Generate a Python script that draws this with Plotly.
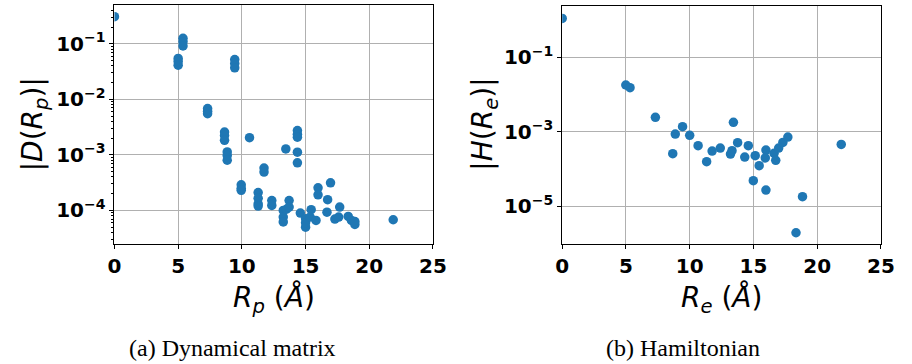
import plotly.graph_objects as go

# ---- data: (a) Dynamical matrix ----
D_R = [0, 5.0, 5.0, 5.0, 5.38, 5.38, 5.38, 7.31, 7.31, 7.31,
       8.64, 8.64, 8.64, 8.85, 8.85, 8.85, 9.44, 9.44, 9.44,
       9.95, 9.95, 9.95, 10.6, 11.28, 11.28, 11.28, 11.28,
       11.74, 11.74, 12.35, 12.35, 13.25, 13.25, 13.25, 13.45,
       13.5, 13.71, 13.71, 14.36, 14.36, 14.36, 14.36, 14.36,
       14.59, 15.0, 15.0, 15.0, 15.44, 15.36, 15.82, 15.98, 15.98,
       16.96, 16.73, 16.68, 17.68, 17.3, 17.6, 18.35, 18.6, 18.87, 18.87,
       21.88]
D_val = [0.307, 0.0543, 0.0412, 0.048, 0.125, 0.108, 0.091, 0.0068, 0.0061, 0.0055,
         0.00258, 0.00222, 0.00183, 0.00113, 0.00097, 0.0008, 0.052, 0.044, 0.0369,
         0.00029, 0.00025, 0.00023, 0.00204, 0.00021, 0.000165, 0.000132, 0.00012,
         0.00058, 0.00049, 0.000151, 0.000123, 0.0001, 7.6e-5, 6.2e-5, 0.00128,
         0.000105, 0.000151, 0.000115, 0.00274, 0.00235, 0.00208, 0.00112, 0.00072,
         8.95e-5, 7.1e-5, 5.0e-5, 6.0e-5, 0.000103, 7.6e-5, 6.6e-5, 0.000255, 0.000191,
         0.000314, 0.000156, 9.3e-5, 0.000115, 7.0e-5, 7.6e-5, 7.8e-5, 6.6e-5, 5.6e-5, 6.3e-5,
         6.8e-5]

# ---- data: (b) Hamiltonian ----
H_R = [0, 4.99, 5.32, 7.31, 8.87, 8.67, 9.44, 10.0, 10.66, 11.33, 11.76, 12.40,
       13.2, 13.32, 13.43, 13.76, 14.32, 14.6, 15.14, 14.99, 15.45, 15.98, 15.93,
       15.98, 16.62, 16.75, 16.98, 17.31, 17.70, 18.34, 18.85, 21.89]
H_val = [1.11, 0.0181, 0.0153, 0.00245, 0.000875, 0.00026, 0.00138, 0.00081, 0.000425,
         0.000158, 0.000305, 0.000368, 0.000254, 0.000312, 0.0018, 0.000512, 0.000211,
         0.000425, 0.000229, 4.9e-5, 0.000124, 0.000325, 0.000199, 2.74e-5, 0.000265,
         0.000172, 0.000368, 0.000522, 0.000727, 1.96e-6, 1.82e-5, 0.000461]

x_ticks = [0, 5, 10, 15, 20, 25]
D_ticks = [1e-1, 1e-2, 1e-3, 1e-4]
D_ticktext = ["10<sup>\u22121</sup>", "10<sup>\u22122</sup>", "10<sup>\u22123</sup>", "10<sup>\u22124</sup>"]
D_minor = [m * 10.0 ** e for e in range(-5, 0) for m in range(2, 10)]
H_ticks = [1e-1, 1e-3, 1e-5]
H_ticktext = ["10<sup>\u22121</sup>", "10<sup>\u22123</sup>", "10<sup>\u22125</sup>"]

BLUE = "#1f77b4"
W, H = 912, 364

fig = go.Figure()
fig.add_trace(go.Scatter(x=D_R, y=D_val, mode="markers", xaxis="x", yaxis="y",
                         marker=dict(color=BLUE, size=9.5, line=dict(width=0)), showlegend=False))
fig.add_trace(go.Scatter(x=H_R, y=H_val, mode="markers", xaxis="x2", yaxis="y2",
                         marker=dict(color=BLUE, size=9.5, line=dict(width=0)), showlegend=False))
# empty trace to carry the minor-tick overlay axis
fig.add_trace(go.Scatter(x=[], y=[], xaxis="x", yaxis="y3", showlegend=False, hoverinfo="skip"))

tickfont = dict(family="DejaVu Sans", size=20, color="black", weight="bold")
common_x = dict(range=[0, 25], tickvals=x_ticks, ticktext=[str(v) for v in x_ticks],
                showgrid=True, gridcolor="#b0b0b0", gridwidth=1,
                showline=True, linecolor="black", linewidth=1, mirror=True,
                ticks="outside", ticklen=4, tickcolor="black", tickwidth=1,
                tickfont=tickfont, zeroline=False)
common_y = dict(type="log", showgrid=True, gridcolor="#b0b0b0", gridwidth=1,
                showline=True, linecolor="black", linewidth=1, mirror=True,
                ticks="outside", ticklen=4, tickcolor="black", tickwidth=1,
                tickfont=tickfont, zeroline=False)

yd1 = [1 - 243.5 / H, 1 - 5 / H]
yr1 = [-4.595, -0.303]

fig.update_layout(
    width=W, height=H, margin=dict(l=0, r=0, t=0, b=0),
    paper_bgcolor="white", plot_bgcolor="white",
    xaxis=dict(domain=[110 / W, 436 / W], anchor="y", **common_x),
    yaxis=dict(domain=yd1, anchor="x", range=yr1, tickvals=D_ticks, ticktext=D_ticktext,
               **common_y),
    yaxis3=dict(type="log", overlaying="y", anchor="x", side="left", range=yr1,
                tickmode="array", tickvals=D_minor, showgrid=False,
                showline=False, zeroline=False, ticks="outside", ticklen=2,
                tickcolor="black", tickwidth=0.6, showticklabels=False),
    xaxis2=dict(domain=[568.3 / W, 894.5 / W], anchor="y2", **common_x),
    yaxis2=dict(domain=[1 - 244 / H, 1 - 6.3 / H], anchor="x2",
                range=[-6.01, 0.37], tickvals=H_ticks, ticktext=H_ticktext,
                **common_y),
)

label_font = dict(family="DejaVu Sans", size=28, color="black")
cap_font = dict(family="Liberation Serif", size=24, color="black")

fig.add_annotation(text="|<i>D</i>(<i>R<sub>p</sub></i>)|", x=28 / W, y=1 - 124 / H,
                   xref="paper", yref="paper", showarrow=False, textangle=-90,
                   font=label_font, xanchor="center", yanchor="middle")
fig.add_annotation(text="|<i>H</i>(<i>R<sub>e</sub></i>)|", x=488 / W, y=1 - 124 / H,
                   xref="paper", yref="paper", showarrow=False, textangle=-90,
                   font=label_font, xanchor="center", yanchor="middle")
fig.add_annotation(text="<i>R<sub>p</sub></i> (<i>Å</i>)", x=273 / W, y=1 - 299 / H,
                   xref="paper", yref="paper", showarrow=False,
                   font=label_font, xanchor="center", yanchor="middle")
fig.add_annotation(text="<i>R<sub>e</sub></i> (<i>Å</i>)", x=731 / W, y=1 - 299 / H,
                   xref="paper", yref="paper", showarrow=False,
                   font=label_font, xanchor="center", yanchor="middle")
fig.add_annotation(text="(a) Dynamical matrix", x=230.5 / W, y=1 - 348 / H,
                   xref="paper", yref="paper", showarrow=False,
                   font=cap_font, xanchor="center", yanchor="middle")
fig.add_annotation(text="(b) Hamiltonian", x=692 / W, y=1 - 348 / H,
                   xref="paper", yref="paper", showarrow=False,
                   font=cap_font, xanchor="center", yanchor="middle")

fig.write_html("out.html")
